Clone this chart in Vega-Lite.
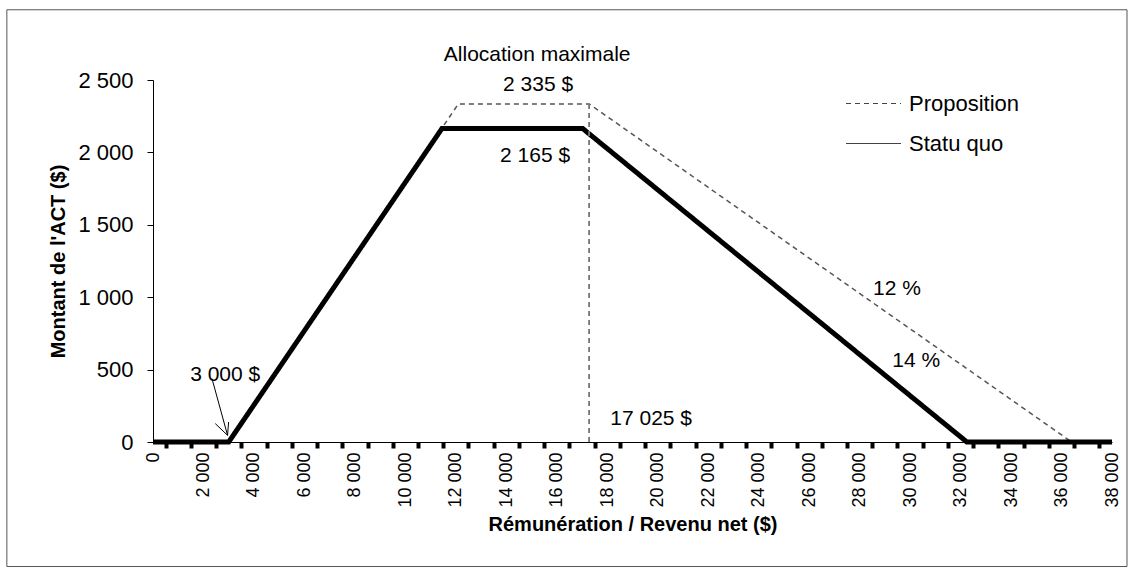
{
  "$schema": "https://vega.github.io/schema/vega-lite/v6.json",
  "width": 959,
  "height": 362,
  "autosize": {"type": "none"},
  "padding": {"left": 153, "top": 80, "right": 21, "bottom": 133},
  "background": "white",
  "config": {
    "font": "Liberation Sans",
    "view": {"stroke": null},
    "locale": {"number": {"decimal": ",", "thousands": "\u00a0", "grouping": [3], "currency": ["", " $"]}},
    "axis": {"labelFont": "Liberation Sans", "titleFont": "Liberation Sans", "labelColor": "#000", "titleColor": "#000", "grid": false, "domainColor": "#000", "tickColor": "#000", "labelFontSize": 20, "titleFontSize": 20, "titleFontWeight": "bold"},
    "legend": {"labelFont": "Liberation Sans", "labelFontSize": 22, "labelColor": "#000"}
  },
  "resolve": {"axis": {"x": "independent"}},
  "datasets": {
    "series": [
      {"series": "Proposition", "revenu": 0, "montant": 0},
      {"series": "Proposition", "revenu": 3000, "montant": 0},
      {"series": "Proposition", "revenu": 12100, "montant": 2335},
      {"series": "Proposition", "revenu": 17280, "montant": 2335},
      {"series": "Proposition", "revenu": 36400, "montant": 0},
      {"series": "Proposition", "revenu": 38000, "montant": 0},
      {"series": "Statu quo", "revenu": 0, "montant": 0},
      {"series": "Statu quo", "revenu": 3000, "montant": 0},
      {"series": "Statu quo", "revenu": 11450, "montant": 2165},
      {"series": "Statu quo", "revenu": 17025, "montant": 2165},
      {"series": "Statu quo", "revenu": 32250, "montant": 0},
      {"series": "Statu quo", "revenu": 38000, "montant": 0}
    ],
    "guide": [
      {"revenu": 17280, "montant": 0, "revenu2": 17280, "montant2": 2335}
    ],
    "arrow": [
      {"revenu": 2337, "montant": 438, "revenu2": 2955, "montant2": 46},
      {"revenu": 2468, "montant": 127, "revenu2": 2955, "montant2": 46},
      {"revenu": 2995, "montant": 138, "revenu2": 2955, "montant2": 46}
    ],
    "notes": [
      {"revenu": 15223, "montant": 2674, "texte": "Allocation maximale"},
      {"revenu": 15260, "montant": 2466, "texte": "2 335 $"},
      {"revenu": 15140, "montant": 1975, "texte": "2 165 $"},
      {"revenu": 19740, "montant": 156, "texte": "17 025 $"},
      {"revenu": 29480, "montant": 1055, "texte": "12 %"},
      {"revenu": 30240, "montant": 557, "texte": "14 %"},
      {"revenu": 2860, "montant": 460, "texte": "3 000 $"}
    ],
    "cadre": [{}]
  },
  "layer": [
    {
      "data": {"name": "series"},
      "mark": {"type": "line", "strokeCap": "butt", "strokeJoin": "miter"},
      "encoding": {
        "x": {
          "field": "revenu", "type": "quantitative",
          "scale": {"domain": [0, 38000], "nice": false, "zero": false},
          "axis": {
            "orient": "bottom",
            "title": "Rémunération / Revenu net ($)",
            "values": [0,2000,4000,6000,8000,10000,12000,14000,16000,18000,20000,22000,24000,26000,28000,30000,32000,34000,36000,38000],
            "format": ",d",
            "labelAngle": -90,
            "labelFontSize": 18,
            "labelOverlap": false,
            "labelPadding": 10,
            "ticks": false,
            "domainWidth": 1,
            "titlePadding": 7
          }
        },
        "y": {
          "field": "montant", "type": "quantitative",
          "scale": {"domain": [0, 2500], "nice": false, "zero": false},
          "axis": {
            "title": "Montant de l'ACT ($)",
            "values": [0, 500, 1000, 1500, 2000, 2500],
            "format": ",d",
            "labelFontSize": 22,
            "tickSize": 6,
            "labelPadding": 14,
            "domainWidth": 1,
            "titlePadding": 9
          }
        },
        "strokeDash": {
          "field": "series", "type": "nominal",
          "scale": {"domain": ["Proposition", "Statu quo"], "range": [[5, 4], [1, 0]]},
          "legend": {
            "title": null,
            "orient": "none",
            "legendX": 692,
            "legendY": -5,
            "symbolType": "stroke",
            "symbolSize": 3025,
            "symbolStrokeWidth": 1.2,
            "symbolStrokeColor": "#444",
            "rowPadding": -15,
            "labelOffset": 7
          }
        },
        "color": {"condition": {"test": "datum.series === 'Statu quo'", "value": "#000000"}, "value": "#555555"},
        "strokeWidth": {"condition": {"test": "datum.series === 'Statu quo'", "value": 5}, "value": 1.5}
      }
    },
    {
      "data": {"name": "cadre"},
      "mark": {"type": "rect", "filled": false, "stroke": "#555", "strokeWidth": 1},
      "encoding": {
        "x": {"datum": -5791, "type": "quantitative", "axis": null},
        "x2": {"datum": 38594},
        "y": {"datum": 2985, "type": "quantitative"},
        "y2": {"datum": -860}
      }
    },
    {
      "data": {"name": "guide"},
      "mark": {"type": "rule", "stroke": "#777", "strokeWidth": 1.8, "strokeDash": [5, 4]},
      "encoding": {
        "x": {
          "field": "revenu", "type": "quantitative",
          "axis": {
            "orient": "bottom",
            "title": null,
            "labels": false,
            "domain": false,
            "values": [500,1500,2500,3500,4500,5500,6500,7500,8500,9500,10500,11500,12500,13500,14500,15500,16500,17500,18500,19500,20500,21500,22500,23500,24500,25500,26500,27500,28500,29500,30500,31500,32500,33500,34500,35500,36500,37500],
            "tickSize": 6,
            "tickWidth": 4,
            "tickColor": "#000",
            "zindex": 1
          }
        },
        "y": {"field": "montant", "type": "quantitative"},
        "x2": {"field": "revenu2"},
        "y2": {"field": "montant2"}
      }
    },
    {
      "data": {"name": "arrow"},
      "mark": {"type": "rule", "stroke": "#000", "strokeWidth": 1},
      "encoding": {
        "x": {"field": "revenu", "type": "quantitative", "axis": null},
        "y": {"field": "montant", "type": "quantitative"},
        "x2": {"field": "revenu2"},
        "y2": {"field": "montant2"}
      }
    },
    {
      "data": {"name": "notes"},
      "mark": {"type": "text", "fontSize": 21, "font": "Liberation Sans", "align": "center", "baseline": "middle", "color": "#000"},
      "encoding": {
        "x": {"field": "revenu", "type": "quantitative", "axis": null},
        "y": {"field": "montant", "type": "quantitative"},
        "text": {"field": "texte"}
      }
    }
  ]
}
